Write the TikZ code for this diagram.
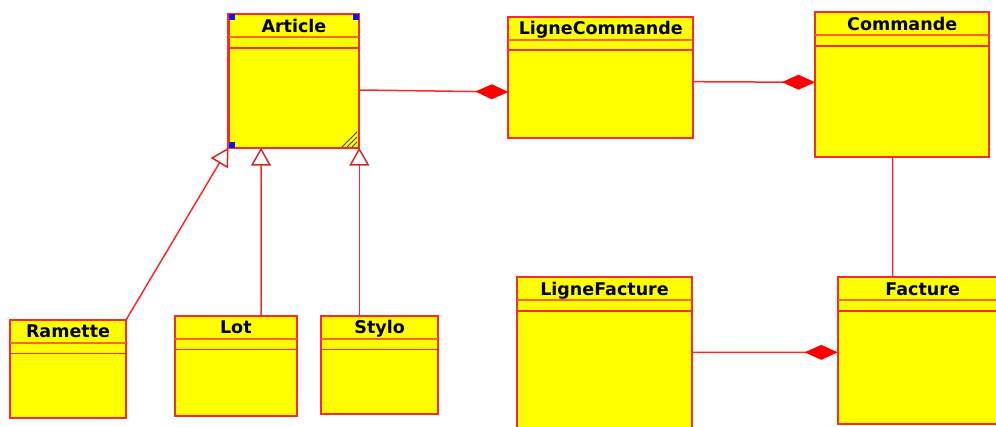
\documentclass[tikz,border=0pt]{standalone}
\usepackage{fontspec}
\setmainfont{DejaVu Sans}
\usetikzlibrary{arrows.meta}
\definecolor{umlred}{RGB}{255,40,40}
\definecolor{umlyellow}{RGB}{255,255,0}
\definecolor{hdrline}{RGB}{255,100,20}
\definecolor{genred}{RGB}{210,40,40}
\definecolor{selblue}{RGB}{20,20,230}
\newcommand\umlbox[6]{%
  \node[cls, minimum width=#4pt, minimum height=#5pt] (#1) at (#2,#3) {};
  \node[ttl] (#1-t) at ([yshift=-17.9pt]#1.north) {#6};
  \draw[sepa] ([yshift=-23pt]#1.north west) -- ([yshift=-23pt]#1.north east);
  \draw[sepb] ([yshift=-33.5pt]#1.north west) -- ([yshift=-33.5pt]#1.north east);
}
\begin{document}
\begin{tikzpicture}[x=1pt,y=-1pt,
  cls/.style={draw=umlred, line width=2.2pt, fill=umlyellow, anchor=north west, inner sep=0pt, outer sep=0pt},
  ttl/.style={font=\bfseries\fontsize{17.5}{20}\selectfont, anchor=base, inner sep=0pt},
  sepa/.style={draw=hdrline, line width=2.2pt},
  sepb/.style={draw=umlred, line width=1.7pt},
  conn/.style={draw=umlred, line width=1.5pt},
  comp/.style={conn, -{Diamond[length=33pt,width=15pt,color=red,fill=red]}},
  gen/.style={conn, -{Triangle[length=18pt,width=20pt,color=genred,fill=white]}}]
\useasboundingbox (0,0) rectangle (996,427);
\clip (0,0) rectangle (996,427);
\fill[white] (0,0) rectangle (996,427);

\umlbox{article}{228.5}{14.3}{130.8}{133.4}{Article}
\umlbox{lc}{508.3}{16.7}{185}{121}{LigneCommande}
\umlbox{commande}{815}{12.3}{174.3}{144.4}{Commande}
\umlbox{ramette}{10}{320}{116}{97.7}{Ramette}
\umlbox{lot}{175}{316}{121.7}{100}{Lot}
\umlbox{stylo}{321}{316}{117.3}{98.3}{Stylo}
\umlbox{lf}{517.3}{277.3}{174.4}{160}{LigneFacture}
\umlbox{facture}{837.7}{277.3}{170}{146.7}{Facture}

% selection handles on Article
\fill[selblue] (228.5,14.3) rectangle +(6,6);
\fill[selblue] (359.3,14.3) rectangle +(-6,6);
\fill[selblue] (228.5,147.7) rectangle +(6,-6);
\draw[black!70!olive, line width=1pt] (342,147) -- (357,132) (347,147) -- (357,137) (352,147) -- (357,142);

% compositions
\draw[comp] ([yshift=-9pt]article.east) -- ([yshift=-14.8pt]lc.west);
\draw[comp] ([yshift=-4.5pt]lc.east) -- ([yshift=2.2pt]commande.west);
\draw[comp] ([yshift=5pt]lf.east) -- ([yshift=-1.7pt]facture.west);
% association
\draw[conn] ([xshift=-9.5pt]commande.south) -- ([xshift=-30pt]facture.north);
% generalizations
\draw[gen] (ramette.north east) -- (article.south west);
\draw[gen] ([xshift=25.15pt]lot.north) -- ([xshift=-32.9pt]article.south);
\draw[gen] ([xshift=-20.35pt]stylo.north) -- (article.south east);
\end{tikzpicture}
\end{document}
